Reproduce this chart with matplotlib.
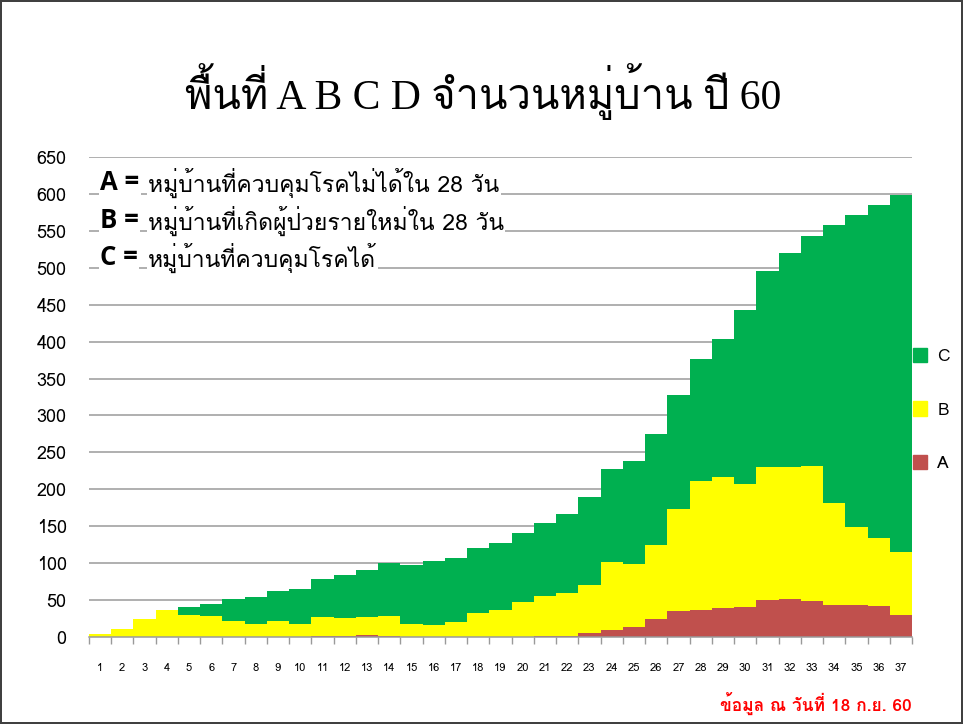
import matplotlib

matplotlib.use("Agg")
import matplotlib.pyplot as plt
from matplotlib import font_manager
from matplotlib.patches import Patch
import numpy as np

# ข้อมูลอ่านจากภาพ (สัปดาห์ 1-37)
weeks = list(range(1, 38))
A = [0, 0, 0, 0, 0, 0, 0, 0, 0, 0, 1, 1, 3, 2, 0, 0, 0, 0, 0, 0,
     2, 2, 5, 10, 14, 24, 35, 37, 39, 41, 50, 51, 49, 43, 43, 42, 30]
B = [4, 11, 24, 37, 30, 29, 22, 17, 21, 18, 26, 25, 24, 26, 17, 16, 20, 32, 37, 47,
     54, 58, 66, 92, 85, 100, 138, 174, 177, 166, 180, 179, 182, 139, 106, 92, 85]
C = [0, 0, 0, 0, 10, 16, 30, 37, 41, 47, 52, 58, 64, 72, 81, 87, 87, 88, 90, 94,
     98, 107, 119, 125, 139, 151, 155, 165, 187, 236, 265, 290, 312, 376, 422, 451, 483]
yticks = list(range(0, 651, 50))

TITLE = "พื้นที่ A B C D จำนวนหมู่บ้าน ปี 60"
NOTES = [("A =", "หมู่บ้านที่ควบคุมโรคไม่ได้ใน 28 วัน"),
         ("B =", "หมู่บ้านที่เกิดผู้ป่วยรายใหม่ใน 28 วัน"),
         ("C =", "หมู่บ้านที่ควบคุมโรคได้")]
SOURCE = "ข้อมูล ณ วันที่ 18 ก.ย. 60"


def thai_font():
    """หาฟอนต์ที่มีอักษรไทย ถ้าไม่มีก็ใช้ DejaVu Sans"""
    try:
        from fontTools.ttLib import TTFont
    except ImportError:
        return "DejaVu Sans"
    for f in font_manager.fontManager.ttflist:
        try:
            tt = TTFont(f.fname, fontNumber=0, lazy=True)
            if 0x0E01 in tt.getBestCmap():
                return f.name
        except Exception:
            pass
    return "DejaVu Sans"


TH = thai_font()
FAM = [TH, "DejaVu Sans"]
plt.rcParams["font.family"] = FAM

COL = {"A": "#C0504D", "B": "#FFFF00", "C": "#00B050"}

fig = plt.figure(figsize=(9.63, 7.24), dpi=100)
fig.patch.set_edgecolor("#404040")
fig.patch.set_linewidth(1.5)
ax = fig.add_axes([88.9 / 963, 1 - 637 / 724, (912 - 88.9) / 963, 480 / 724])

x = np.array(weeks)
a = np.array(A); b = np.array(B); c = np.array(C)
ax.bar(x, a, width=1.0, color=COL["A"], linewidth=0, zorder=2)
ax.bar(x, b, width=1.0, bottom=a, color=COL["B"], linewidth=0, zorder=2)
ax.bar(x, c, width=1.0, bottom=a + b, color=COL["C"], linewidth=0, zorder=2)

ax.set_xlim(0.5, 37.5)
ax.set_ylim(0, 650)
ax.set_yticks(yticks)
ax.yaxis.grid(True, color="#9a9a9a", linewidth=1.1, zorder=0)
ax.set_axisbelow(True)
for s in ("left", "top", "right"):
    ax.spines[s].set_visible(False)
ax.spines["bottom"].set_color("#9a9a9a")
ax.spines["bottom"].set_linewidth(1.1)
ax.tick_params(axis="y", length=0, pad=16, labelsize=13)
ax.set_xticks(weeks)
ax.set_xticks(np.arange(0.5, 38, 1), minor=True)
ax.tick_params(axis="x", which="major", length=0, pad=19, labelsize=8)
ax.tick_params(axis="x", which="minor", length=5, color="#9a9a9a", width=1)

# หัวเรื่อง: ตัวละตินเป็น serif ส่วนอักษรไทยใช้ฟอนต์ไทย
fig.text(483 / 963, 1 - 92 / 724, TITLE, ha="center", va="center",
         fontsize=30, family=["Liberation Serif"] + FAM)

for i, (k, txt) in enumerate(NOTES):
    yy = 1 - (183 + i * 37.5) / 724
    fig.text(100 / 963, yy, k, ha="left", va="center", fontsize=18.5,
             fontweight="bold", family=["Open Sans", "DejaVu Sans"], zorder=5,
             bbox=dict(facecolor="white", edgecolor="none", pad=1))
    fig.text(148 / 963, yy, txt, ha="left", va="center", fontsize=16.5, zorder=5,
             bbox=dict(facecolor="white", edgecolor="none", pad=1))

handles = [Patch(color=COL[k]) for k in ("C", "B", "A")]
fig.legend(handles, ["C", "B", "A"], loc="center left",
           bbox_to_anchor=(913 / 963, 1 - 410 / 724), frameon=False,
           borderaxespad=0, borderpad=0,
           fontsize=12.5, handlelength=0.8, handleheight=0.9,
           handletextpad=0.6, labelspacing=2.1)

fig.text(912 / 963, 1 - 703 / 724, SOURCE, ha="right", va="center",
         fontsize=12.5, color="#FF0000", fontweight="bold")

fig.savefig("out.png", dpi=100)
